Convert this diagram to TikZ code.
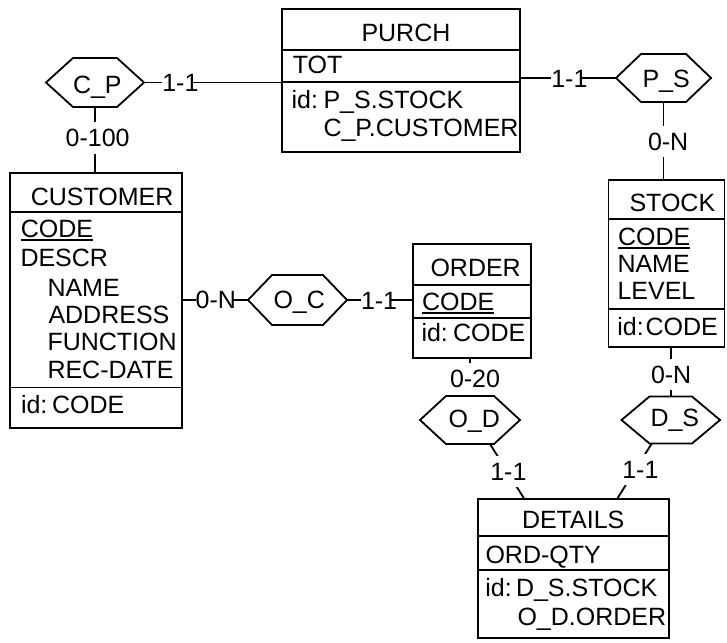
\documentclass[tikz,border=0pt]{standalone}
\usepackage{fontspec}
\setmainfont{Liberation Sans}
\usetikzlibrary{calc}

% key attribute: text with a rule under it
\newcommand\undl[1]{\leavevmode\vtop{\hbox{#1}\kern1.8pt\hrule height 1.6pt}}
% role label on a horizontal link: the first part masks the line
\newcommand\hlab[3]{{\setlength{\fboxsep}{0pt}\colorbox{white}{#1\kern#2}}\kern-#2\relax #3}

\tikzset{
  edge/.style={line width=1.8pt},
  sep/.style={line width=1.8pt},
  entity/.style={draw, rectangle, line width=1.8pt, inner sep=0pt},
  hexfit/.style={rectangle, inner sep=0pt, outer sep=0pt},
  txt/.style={anchor=text, inner sep=0pt, text=black},
  card/.style={txt, fill=white, inner xsep=3pt, inner ysep=7pt},
}

% relationship hexagon: name, left, right, top, bottom, slant, text x, text baseline, text
\newcommand\relshape[9]{%
  \node[hexfit, minimum width={(#3)-(#2)}, minimum height={(#5)-(#4)}] (#1)
    at ({((#2)+(#3))/2},{((#4)+(#5))/2}) {};
  \draw[edge] (#1.west) -- ([xshift=#6pt]#1.north west) -- ([xshift=-#6pt]#1.north east)
    -- (#1.east) -- ([xshift=-#6pt]#1.south east) -- ([xshift=#6pt]#1.south west) -- cycle;
  \node[txt] (#1-name) at (#7,#8) {#9};
}

\begin{document}
\begin{tikzpicture}[x=1pt, y=-1pt, font=\fontsize{25pt}{30pt}\selectfont]
\useasboundingbox (0,0) rectangle (727,642);

% ---------- PURCH ----------
\node[entity, minimum width=238.3, minimum height=142.4] (purch) at (400.85,80.5) {};
\draw[sep] (281.7,50) -- (520,50);
\draw[sep] (281.7,82.3) -- (520,82.3);
\node[txt] (purch-title) at (361.5,41.7) {PURCH};
\node[txt] (purch-tot) at (292.8,74) {TOT};
\node[txt] (purch-id) at (291.6,108.3) {id:};
\node[txt] (purch-id1) at (323.5,108.3) {P\_S.STOCK};
\node[txt] (purch-id2) at (323.5,136.7) {C\_P.CUSTOMER};

% ---------- CUSTOMER ----------
\node[entity, minimum width=171.7, minimum height=254.7] (cust) at (95.85,300.35) {};
\draw[sep] (10,212) -- (181.7,212);
\draw[sep] (10,387.5) -- (181.7,387.5);
\node[txt] (cust-title) at (30.8,205) {CUSTOMER};
\node[txt] (cust-code) at (20.8,237) {\undl{CODE}};
\node[txt] (cust-descr) at (20.5,266.5) {DESCR};
\node[txt] (cust-name) at (47.5,296) {NAME};
\node[txt] (cust-addr) at (48.5,323.3) {ADDRESS};
\node[txt] (cust-func) at (47.5,350.7) {FUNCTION};
\node[txt] (cust-rec) at (47.5,378.3) {REC-DATE};
\node[txt] (cust-id) at (21,413) {id:};
\node[txt] (cust-id1) at (52,413) {CODE};

% ---------- STOCK ----------
\node[entity, minimum width=116, minimum height=167] (stock) at (666.5,263.5) {};
\draw[sep] (608.5,219.3) -- (724.5,219.3);
\draw[sep] (608.5,309.3) -- (724.5,309.3);
\node[txt] (stock-title) at (629.5,211.5) {STOCK};
\node[txt] (stock-code) at (618,245) {\undl{CODE}};
\node[txt] (stock-name) at (617.5,272.5) {NAME};
\node[txt] (stock-level) at (617.5,299) {LEVEL};
\node[txt] (stock-id) at (617.3,335.5) {id:};
\node[txt] (stock-id1) at (645.5,335.5) {CODE};

% ---------- ORDER ----------
\node[entity, minimum width=118, minimum height=114] (order) at (472,301.3) {};
\draw[sep] (413,285) -- (531,285);
\draw[sep] (413,317.7) -- (531,317.7);
\node[txt] (order-title) at (430.5,276.7) {ORDER};
\node[txt] (order-code) at (422,310) {\undl{CODE}};
\node[txt] (order-id) at (421.5,341.7) {id:};
\node[txt] (order-id1) at (453,341.7) {CODE};

% ---------- DETAILS ----------
\node[entity, minimum width=191, minimum height=139.3] (det) at (573.2,568.65) {};
\draw[sep] (477.7,535.7) -- (668.7,535.7);
\draw[sep] (477.7,570) -- (668.7,570);
\node[txt] (det-title) at (522,528.3) {DETAILS};
\node[txt] (det-qty) at (485.5,563) {ORD-QTY};
\node[txt] (det-id) at (485.3,596) {id:};
\node[txt] (det-id1) at (516,596) {D\_S.STOCK};
\node[txt] (det-id2) at (517.5,625) {O\_D.ORDER};

% ---------- relationships ----------
\relshape{cp}{46}{144}{58}{107}{27}{73}{93}{C\_P}
\relshape{ps}{616}{711}{54}{102}{25}{642.5}{87}{P\_S}
\relshape{oc}{248}{347}{275}{325}{24}{273.5}{308.5}{O\_C}
\relshape{od}{420}{520}{396}{444}{26}{448.5}{427.3}{O\_D}
\relshape{ds}{621.5}{720}{396.5}{443.5}{28}{650.5}{426.7}{D\_S}

% ---------- links ----------
\draw[edge] (cp.east) -- (cp.east -| purch.west);
\draw[edge] (purch.east |- ps.west) -- (ps.west);
\draw[edge] (cp.south) -- (cp.south |- cust.north);
\draw[edge] (ps.south) -- (ps.south |- stock.north);
\draw[edge] (cust.east |- oc.west) -- (oc.west);
\draw[edge] (oc.east) -- (oc.east -| order.west);
\draw[edge] (od.north |- order.south) -- (od.north);
\draw[edge] (ds.north |- stock.south) -- (ds.north);
\draw[edge] ([xshift=20pt]od.south) -- ([xshift=47pt]det.north west);
\draw[edge] ([xshift=-19pt]ds.south) -- ([xshift=-52pt]det.north east);

% ---------- cardinalities ----------
\node[txt] (l-cp) at (162.3,91.5) {\hlab{1-}{7pt}{1}};
\node[txt] (l-ps) at (551.3,87) {\hlab{1-}{7pt}{1}};
\node[card] (l-cust) at (65.7,146.7) {0-100};
\node[card] (l-stock1) at (648,150) {0-N};
\node[txt] (l-oc1) at (195.7,308.5) {\hlab{0-}{14pt}{N}};
\node[txt] (l-oc2) at (361,309) {\hlab{1-}{7pt}{1}};
\node[card] (l-order) at (450,387.7) {0-20};
\node[card] (l-stock2) at (651,383) {0-N};
\node[card] (l-od) at (490.3,480) {1-1};
\node[card] (l-ds) at (622.3,478.3) {1-1};
\end{tikzpicture}
\end{document}
